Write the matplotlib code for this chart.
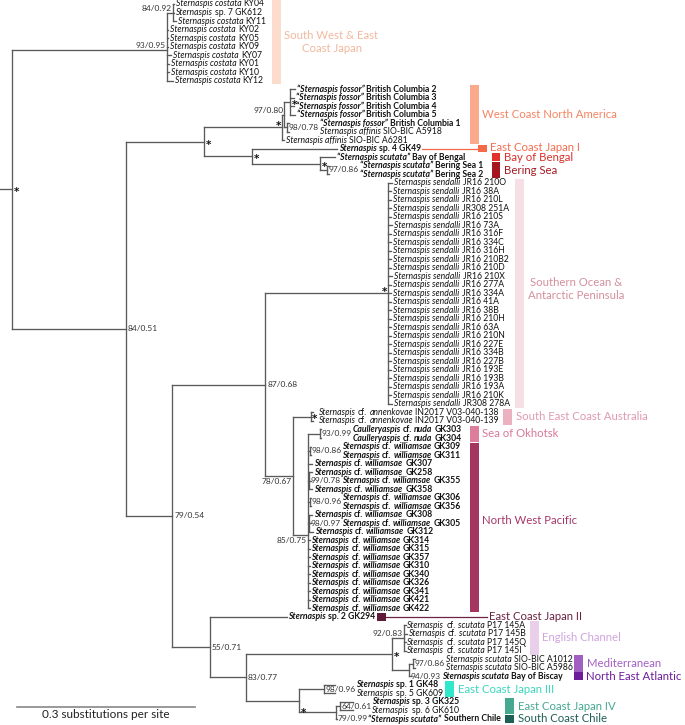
import re
import matplotlib
matplotlib.use('Agg')
import matplotlib.pyplot as plt
from matplotlib.collections import LineCollection
from matplotlib.patches import Rectangle

plt.rcParams['font.family'] = ['Lato', 'DejaVu Sans']

# ---- data -----------------------------------------------------------------
# tip labels in tree order, {...} = italic part
sendalli_ids = ['JR16 210O', 'JR16 38A', 'JR16 210L', 'JR308 251A', 'JR16 210S', 'JR16 73A',
                'JR16 316F', 'JR16 334C', 'JR16 316H', 'JR16 210B2', 'JR16 210D', 'JR16 210X',
                'JR16 277A', 'JR16 334A', 'JR16 41A', 'JR16 38B', 'JR16 210H', 'JR16 63A',
                'JR16 210N', 'JR16 227E', 'JR16 334B', 'JR16 227B', 'JR16 193E', 'JR16 193B',
                'JR16 193A', 'JR16 210K', 'JR308 278A']
williamsae_ids = ['GK309', 'GK311', 'GK307', 'GK258', 'GK355', 'GK358', 'GK306', 'GK356',
                  'GK308', 'GK305', 'GK312', 'GK314', 'GK315', 'GK357', 'GK310', 'GK340',
                  'GK326', 'GK341', 'GK421', 'GK422']

tip_labels = (
    ['{Sternaspis costata} KY04', '{Sternaspis} sp. 7 GK612', '{Sternaspis costata} KY11',
     '{Sternaspis costata} KY02', '{Sternaspis costata} KY05', '{Sternaspis costata} KY09',
     '{Sternaspis costata} KY07', '{Sternaspis costata} KY01', '{Sternaspis costata} KY10',
     '{Sternaspis costata} KY12',
     '{“Sternaspis fossor”} British Columbia 2', '{“Sternaspis fossor”} British Columbia 3',
     '{“Sternaspis fossor”} British Columbia 4', '{“Sternaspis fossor”} British Columbia 5',
     '{“Sternaspis fossor”} British Columbia 1',
     '{Sternaspis affinis} SIO-BIC A5918', '{Sternaspis affinis} SIO-BIC A6281',
     '{Sternaspis} sp. 4 GK49', '{“Sternaspis scutata”} Bay of Bengal',
     '{“Sternaspis scutata”} Bering Sea 1', '{“Sternaspis scutata”} Bering Sea 2']
    + ['{Sternaspis sendalli} ' + s for s in sendalli_ids]
    + ['{Sternaspis} cf. {annenkovae} IN2017 V03-040-138',
       '{Sternaspis} cf. {annenkovae} IN2017 V03-040-139',
       '{Caulleryaspis} cf. {nuda} GK303', '{Caulleryaspis} cf. {nuda} GK304']
    + ['{Sternaspis} cf. {williamsae} ' + s for s in williamsae_ids]
    + ['{Sternaspis} sp. 2 GK294',
       '{Sternaspis} cf. {scutata} P17 145A', '{Sternaspis} cf. {scutata} P17 145B',
       '{Sternaspis} cf. {scutata} P17 145Q', '{Sternaspis} cf. {scutata} P17 145I',
       '{Sternaspis scutata} SIO-BIC A1012', '{Sternaspis scutata} SIO-BIC A5986',
       '{Sternaspis scutata} Bay of Biscay',
       '{Sternaspis} sp. 1 GK48', '{Sternaspis} sp. 5 GK609',
       '{Sternaspis} sp. 3 GK325', '{Sternaspis} sp. 6 GK610',
       '{“Sternaspis scutata”} Southern Chile']
)
bold_tips = [10, 11, 12, 13, 14, 17, 18, 19, 20, 50, 51] + list(range(52, 72)) + [72, 79, 80, 82, 84]

# topology: tip numbers, support (bootstrap/posterior) and branch lengths (subst./site)
costata = ('((0:0.002,1:0.002,2:0.005)84/0.92:0.010,3:0.002,4:0.002,5:0.002,6:0.007,'
           '7:0.003,8:0.003,9:0.010)93/0.95:0.262')
north = ('((((10:0.008,11:0.007,12:0.007,13:0.008)*:0.010,(14:0.003,15:0.003)98/0.78:0.005)'
         '97/0.80:0.003,16:0.003)*:0.132,(17:0.144,(18:0.025,(19:0.003,20:0.003)97/0.86:0.012)'
         '*:0.115)*:0.081)*:0.132')
sendalli = ('(21:0.007,22:0.005,23:0.005,24:0.005,25:0.005,26:0.006,27:0.005,28:0.005,29:0.005,'
            '30:0.005,31:0.005,32:0.007,33:0.005,34:0.005,35:0.005,36:0.005,37:0.005,38:0.005,'
            '39:0.005,40:0.005,41:0.005,42:0.005,43:0.005,44:0.005,45:0.005,46:0.005,47:0.007)*:0.208')
pacific = ('((48:0.003,49:0.003)*:0.030,((50:0.003,51:0.003)93/0.99:0.020,(52:0.003,53:0.003)'
           '98/0.86:0.003,54:0.007,(55:0.005,56:0.003,57:0.005)99/0.78:0.002,(58:0.003,59:0.003)'
           '98/0.96:0.003,(60:0.005,61:0.003,62:0.007)98/0.97:0.002,63:0.003,64:0.003,65:0.003,'
           '66:0.003,67:0.003,68:0.003,69:0.003,70:0.003,71:0.003)85/0.75:0.025)78/0.67:0.047')
atlantic = ('(72:0.130,(((73:0.003,74:0.005,75:0.003,76:0.003)92/0.83:0.020,((77:0.003,78:0.003)'
            '97/0.86:0.007,79:0.003)94/0.93:0.029)*:0.247,((80:0.019,81:0.019)98/0.96:0.042,'
            '((82:0.022,83:0.022)64/0.61:0.007,84:0.003)79/0.99:0.062)*:0.090)83/0.77:0.061)55/0.71:0.063')
tree = ('(' + costata + ',(' + north + ',((' + sendalli + ',' + pacific + ')87/0.68:0.157,'
        + atlantic + ')79/0.54:0.078)84/0.51:0.193)*:0.020;')

# regions
region_names = ['South West & East\nCoast Japan', 'West Coast North America', 'East Coast Japan I',
                'Bay of Bengal', 'Bering Sea', 'Southern Ocean &\nAntarctic Peninsula',
                'South East Coast Australia', 'Sea of Okhotsk', 'North West Pacific',
                'East Coast Japan II', 'English Channel', 'Mediterranean', 'North East Atlantic',
                'East Coast Japan III', 'East Coast Japan IV', 'South Coast Chile']
region_first = [0, 10, 17, 18, 19, 21, 48, 50, 52, 72, 73, 77, 79, 80, 82, 84]
region_last = [9, 16, 17, 18, 20, 47, 49, 51, 71, 72, 76, 78, 79, 81, 83, 84]

# ---- style / layout -------------------------------------------------------
# placement of the node labels, in order of closing parentheses
label_pos = ['ul', 'ul',
             'r', 'in', 'ul', 'ul', 'in', 'r', 'r', 'r',
             'ul', 'in', 'in', 'in', 'in', 'in', 'in', 'll', 'll', 'r',
             'ul', 'in', 'inb', 'r', 'in', 'in', 'inb', 'lr', 'r', 'r',
             'r', 'r', 'r']
bar_colors = ['#fcdccd', '#f9a98c', '#f4694a', '#e0322b', '#a51520', '#f6dfe5', '#ebb1c0',
              '#dd7f9c', '#a3355f', '#5e1a37', '#e9cfea', '#a25fc2', '#6c1d9c', '#2ee8c9',
              '#46a891', '#1e5f58']
text_colors = ['#f2b89e', '#f58462', '#f46d52', '#d9302b', '#a51a22', '#d4909f', '#e09aae',
               '#d9789a', '#a5386a', '#6b2342', '#d0a5dc', '#a25fc2', '#6c1d9c', '#3ad6bc',
               '#46a891', '#1e5f58']
bar_x = [272, 470, 478, 492, 492, 515, 503, 470, 470, None, 530, 574, 574, 445, 505, 505]
label_dy = [0, 0, -1, 0.5, 0.5, -4, 0, 0, -7, 0, 0, 0, 0, 0, 0, 0]

W, H = 685, 725
ROW, Y0 = 8.51, 4.0      # px per tip row, px of first tip
PXS = 592.0              # px per substitution
TIP_FS, SUP_FS, REG_FS = 6.2, 6.0, 8.2
BRANCH = '#5a5a5a'

fig = plt.figure(figsize=(W / 100, H / 100), dpi=100)
ax = fig.add_axes([0, 0, 1, 1])
ax.set_xlim(0, W / PXS)
ax.set_ylim((H - Y0) / ROW, -Y0 / ROW)
ax.axis('off')
renderer = fig.canvas.get_renderer()


def px(v):
    return v / PXS


def rows(v):
    return v / ROW


def width(t):
    return t.get_window_extent(renderer).width / PXS


_wcache = {}


def seg_width(s, **kw):
    key = (s, tuple(sorted(kw.items())))
    if key not in _wcache:
        a = ax.text(0, 0, '|' + s + '|', **kw)
        b = ax.text(0, 0, '||', **kw)
        _wcache[key] = width(a) - width(b)
        a.remove()
        b.remove()
    return _wcache[key]


# ---- parse newick ---------------------------------------------------------
internal = []


def parse(s):
    pos = 0

    def node():
        nonlocal pos
        n = {'ch': [], 'label': '', 'bl': 0.0}
        if s[pos] == '(':
            pos += 1
            while True:
                n['ch'].append(node())
                c = s[pos]
                pos += 1
                if c == ')':
                    break
        m = re.match(r"[^:,();]*", s[pos:])
        n['label'] = m.group(0)
        pos += len(n['label'])
        if s[pos] == ':':
            m = re.match(r":([0-9.]+)", s[pos:])
            n['bl'] = float(m.group(1))
            pos += len(m.group(0))
        if n['ch']:
            internal.append(n)
        return n
    return node()


root = parse(tree.replace(' ', ''))
for n, p in zip(internal, label_pos):
    n['pos'] = p


def layout(n, x0):
    n['x'] = x0 + n['bl']
    if n['ch']:
        for c in n['ch']:
            layout(c, n['x'])
        n['y'] = sum(c['y'] for c in n['ch']) / len(n['ch'])
    else:
        n['tip'] = int(n['label'])
        n['y'] = n['tip']


layout(root, 0.0)

# ---- branches -------------------------------------------------------------
segs = []


def collect(n, x0):
    segs.append([(x0, n['y']), (n['x'], n['y'])])
    if n['ch']:
        ys = [c['y'] for c in n['ch']]
        segs.append([(n['x'], min(ys)), (n['x'], max(ys))])
        for c in n['ch']:
            collect(c, n['x'])


collect(root, 0.0)
ax.add_collection(LineCollection(segs, colors=BRANCH, linewidths=0.95, capstyle='projecting'))

# ---- node labels ----------------------------------------------------------
tip_shift = {}
for n in internal:
    lab, p = n['label'], n['pos']
    x, y = n['x'], n['y']
    if p == 'inb':
        y = n['ch'][-1]['y']
    if lab == '*':
        off = {'r': (1.5, 1), 'ul': (-1, -4), 'in': (1, 0), 'lr': (2, 10)}[p]
        ha = 'right' if p == 'ul' else 'left'
        t = ax.text(x + px(off[0]), y + rows(off[1] + 5.2), '*', ha=ha, va='baseline',
                    fontsize=7.5, weight='bold', color='#111111', family='DejaVu Sans')
    else:
        kw = dict(fontsize=SUP_FS, color='#333333')
        if p == 'r':
            t = ax.text(x + px(2), y, lab, ha='left', va='center', **kw)
        elif p == 'ul':
            t = ax.text(x - px(1), y - rows(1.5), lab, ha='right', va='baseline', **kw)
        elif p == 'll':
            t = ax.text(x - px(1), y + rows(2), lab, ha='right', va='top', **kw)
        else:
            t = ax.text(x + px(1.5), y, lab, ha='left', va='center', **kw)
    if p in ('in', 'inb'):
        right = x + px(1.5) + width(t)
        for c in n['ch']:
            if not c['ch'] and abs(c['y'] - y) < 0.6:
                tip_shift[c['tip']] = right


# ---- tip labels -----------------------------------------------------------
def draw_rich(x, y, text, bold):
    weight = 'bold' if bold else 'normal'
    for part in re.split(r"(\{[^}]*\})", text):
        if not part:
            continue
        style = 'italic' if part.startswith('{') else 'normal'
        s = part.strip('{}')
        kw = dict(fontsize=TIP_FS, weight=weight, style=style)
        lead = len(s) - len(s.lstrip(' '))
        if lead:
            x += seg_width(' ' * lead, **kw)
        core = s.strip(' ')
        ax.text(x, y, core, ha='left', va='center', color='#111111', **kw)
        x += seg_width(core, **kw)
        trail = len(s) - len(s.rstrip(' '))
        if trail:
            x += seg_width(' ' * trail, **kw)
    return x


tip_end = {}
tips = []


def find_tips(n):
    if n['ch']:
        for c in n['ch']:
            find_tips(c)
    else:
        tips.append(n)


find_tips(root)
for n in tips:
    i = n['tip']
    x = n['x'] + px(1.8)
    if i in tip_shift:
        x = max(x, tip_shift[i] + px(1))
    tip_end[i] = draw_rich(x, n['y'], tip_labels[i], i in bold_tips)

# ---- regions --------------------------------------------------------------
BAR_W = 8.5
for k, name in enumerate(region_names):
    y0 = region_first[k] - 0.45
    y1 = region_last[k] + 0.45
    if bar_x[k] is None:
        bx = tip_end[region_first[k]] * PXS + 2
    else:
        bx = bar_x[k]
    ax.add_patch(Rectangle((px(bx), y0), px(BAR_W), y1 - y0, color=bar_colors[k], lw=0))
    ym = (y0 + y1) / 2
    lx = bx + BAR_W + 4
    if name == 'East Coast Japan I':
        ax.plot([tip_end[region_first[k]] + px(1), px(bx)], [ym, ym], color=bar_colors[k], lw=0.9)
    if name == 'East Coast Japan II':
        lx = 489
        ax.plot([px(bx + BAR_W), px(lx - 2)], [ym, ym], color=text_colors[k], lw=0.9)
    ax.text(px(lx), ym + rows(label_dy[k]), name, fontsize=REG_FS, color=text_colors[k],
            ha='left', va='center', multialignment='center', linespacing=1.25)

# ---- scale bar ------------------------------------------------------------
sb_len = 0.3
ax.plot([px(17), px(17) + sb_len], [rows(707 - Y0)] * 2, color='#888888', lw=1.2)
ax.text(px(17) + sb_len / 2, rows(709 - Y0), '%.1f substitutions per site' % sb_len,
        fontsize=8.5, ha='center', va='top', color='#222222')

fig.savefig('out.png', dpi=100)
